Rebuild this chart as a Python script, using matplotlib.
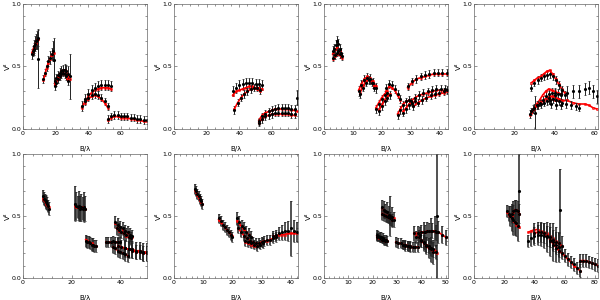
import matplotlib
matplotlib.use('Agg')
import matplotlib.pyplot as plt
from matplotlib.ticker import MultipleLocator

# ---------------------------------------------------------------- data
# each panel: list of segments (x, V2 data, error, model)

p1_x = [[5.5, 6.0, 6.5, 7.0, 7.5, 8.0, 8.5, 9.0, 9.1],
        [12.5, 13.5, 14.5, 15.5, 16.5, 17.5, 18.5, 18.8],
        [19.5, 20.5, 21.5, 22.5, 23.5, 24.5, 25.5, 26.5, 27.5, 28.5],
        [19.5, 20.5, 21.5, 22.5, 23.5, 24.5, 25.5, 26.5, 27.5],
        [36, 38, 40, 42, 44, 46, 48, 50, 52, 54],
        [38, 40, 42, 44, 46, 48, 50, 52],
        [52, 54, 56, 58, 60, 62, 64, 66, 68, 70, 72, 74, 76]]
p1_y = [[0.60, 0.62, 0.64, 0.66, 0.68, 0.70, 0.71, 0.73, 0.56],
        [0.40, 0.45, 0.50, 0.54, 0.57, 0.60, 0.62, 0.55],
        [0.38, 0.41, 0.43, 0.45, 0.46, 0.47, 0.47, 0.46, 0.44, 0.42],
        [0.34, 0.37, 0.40, 0.42, 0.44, 0.45, 0.44, 0.42, 0.38],
        [0.18, 0.24, 0.28, 0.31, 0.33, 0.34, 0.35, 0.35, 0.35, 0.34],
        [0.22, 0.25, 0.27, 0.28, 0.27, 0.25, 0.22, 0.18],
        [0.08, 0.10, 0.11, 0.11, 0.10, 0.10, 0.10, 0.09, 0.09, 0.08, 0.08, 0.07, 0.07]]
p1_e = [[0.04, 0.04, 0.05, 0.05, 0.06, 0.06, 0.07, 0.07, 0.23],
        [0.03, 0.03, 0.04, 0.04, 0.05, 0.05, 0.08, 0.18],
        [0.03, 0.03, 0.03, 0.04, 0.04, 0.04, 0.05, 0.05, 0.06, 0.18],
        0.03, 0.04, 0.03, 0.03]
p1_m = [[0.61, 0.63, 0.65, 0.66, 0.68, 0.69, 0.71, 0.72, 0.72],
        [0.39, 0.44, 0.49, 0.53, 0.56, 0.59, 0.61, 0.61],
        [0.37, 0.40, 0.42, 0.44, 0.46, 0.47, 0.47, 0.46, 0.43, 0.40],
        [0.35, 0.38, 0.40, 0.42, 0.44, 0.45, 0.44, 0.42, 0.39],
        [0.17, 0.22, 0.26, 0.29, 0.31, 0.32, 0.33, 0.33, 0.33, 0.32],
        [0.21, 0.24, 0.26, 0.27, 0.26, 0.24, 0.21, 0.17],
        [0.07, 0.09, 0.10, 0.10, 0.09, 0.09, 0.09, 0.08, 0.08, 0.07, 0.07, 0.06, 0.06]]

p2_x = [[36, 38, 40, 42, 44, 46, 48, 50, 52, 54],
        [37, 39, 41, 43, 45, 47, 49, 51, 53],
        [52, 54, 56, 58, 60, 62, 64, 66, 68, 70, 72, 74, 75.5],
        [52, 54, 56, 58, 60, 62, 64, 66, 68, 70, 72, 74]]
p2_y = [[0.30, 0.33, 0.35, 0.36, 0.37, 0.37, 0.37, 0.36, 0.36, 0.35],
        [0.15, 0.21, 0.25, 0.28, 0.30, 0.32, 0.33, 0.33, 0.31],
        [0.06, 0.10, 0.12, 0.14, 0.15, 0.16, 0.17, 0.17, 0.17, 0.17, 0.16, 0.16, 0.25],
        [0.05, 0.08, 0.10, 0.11, 0.12, 0.13, 0.13, 0.13, 0.13, 0.13, 0.12, 0.12]]
p2_e = [0.04, 0.03, [0.03] * 12 + [0.06], 0.03]
p2_m = [[0.27, 0.30, 0.31, 0.32, 0.33, 0.34, 0.34, 0.33, 0.33, 0.32],
        [0.16, 0.21, 0.25, 0.28, 0.30, 0.32, 0.33, 0.32, 0.30],
        [0.07, 0.11, 0.13, 0.14, 0.15, 0.16, 0.16, 0.16, 0.16, 0.16, 0.15, 0.15, 0.14],
        [0.05, 0.08, 0.10, 0.11, 0.12, 0.12, 0.12, 0.12, 0.12, 0.12, 0.11, 0.11]]

p3_x = [[3.0, 3.5, 4.0, 4.5, 5.0, 5.5, 6.0],
        [3.2, 3.8, 4.4, 5.0, 5.6, 6.2],
        [12, 13, 14, 15, 16, 17, 18],
        [12.5, 13.5, 14.5, 15.5, 16.5, 17.5],
        [18, 19, 20, 21, 22],
        [19, 20, 21, 22, 23],
        [21.5, 22.5, 23.5, 24.5, 25.5, 26.5],
        [25.5, 26.5, 27.5, 28.5, 29.5],
        [27.5, 28.5, 29.5, 30.5, 31.5],
        [29, 30.5, 32, 33.5, 35, 36.5, 38, 39.5, 41, 42.5],
        [30, 31.5, 33, 34.5, 36, 37.5, 39, 40.5, 42],
        [31, 32.5, 34, 35.5, 37, 38.5, 40, 41.5, 42.8]]
p3_y = [[0.62, 0.64, 0.67, 0.70, 0.68, 0.64, 0.61],
        [0.57, 0.59, 0.61, 0.62, 0.60, 0.58],
        [0.30, 0.35, 0.39, 0.41, 0.40, 0.37, 0.33],
        [0.28, 0.33, 0.37, 0.39, 0.37, 0.33],
        [0.16, 0.20, 0.24, 0.27, 0.29],
        [0.14, 0.18, 0.22, 0.25, 0.27],
        [0.33, 0.36, 0.35, 0.32, 0.28, 0.24],
        [0.11, 0.15, 0.19, 0.22, 0.23],
        [0.13, 0.16, 0.19, 0.21, 0.22],
        [0.34, 0.38, 0.40, 0.42, 0.43, 0.44, 0.45, 0.45, 0.45, 0.45],
        [0.22, 0.25, 0.27, 0.29, 0.30, 0.31, 0.32, 0.32, 0.32],
        [0.18, 0.21, 0.23, 0.25, 0.27, 0.28, 0.29, 0.30, 0.31]]
p3_e = [0.04, 0.03, 0.04, 0.03, 0.03, 0.03, 0.03, 0.03, 0.03, 0.03, 0.03, 0.03]
p3_m = [[0.60, 0.62, 0.64, 0.65, 0.64, 0.62, 0.60],
        [0.56, 0.58, 0.60, 0.61, 0.59, 0.57],
        [0.31, 0.36, 0.40, 0.42, 0.41, 0.38, 0.34],
        [0.29, 0.34, 0.38, 0.40, 0.38, 0.34],
        [0.17, 0.21, 0.25, 0.28, 0.30],
        [0.15, 0.19, 0.23, 0.26, 0.28],
        [0.30, 0.34, 0.33, 0.31, 0.27, 0.23],
        [0.12, 0.16, 0.20, 0.22, 0.23],
        [0.14, 0.17, 0.20, 0.21, 0.22],
        [0.33, 0.37, 0.40, 0.41, 0.42, 0.43, 0.44, 0.44, 0.44, 0.44],
        [0.22, 0.25, 0.27, 0.28, 0.29, 0.30, 0.31, 0.31, 0.31],
        [0.18, 0.21, 0.23, 0.25, 0.26, 0.27, 0.28, 0.29, 0.30]]

p4_x = [[28.5, 30, 31.5, 33, 34.5, 36, 37.5, 39, 40.5, 42, 43.5, 45],
        [28, 29.5, 30.5, 31, 32.5, 34, 35.5, 37, 38.5, 40, 41.5, 43],
        [28.5, 30, 31.5, 33, 34.5, 36, 37.5, 39, 40.5, 42, 43.5],
        [37, 40, 43, 46, 49, 52, 55, 57, 59, 61],
        [38, 40.5, 43, 45.5, 48, 50.5, 52]]
p4_y = [[0.33, 0.37, 0.39, 0.41, 0.42, 0.43, 0.44, 0.42, 0.39, 0.35, 0.31, 0.27],
        [0.12, 0.16, 0.13, 0.19, 0.21, 0.23, 0.26, 0.28, 0.29, 0.29, 0.28, 0.27],
        [0.14, 0.17, 0.19, 0.20, 0.21, 0.22, 0.23, 0.24, 0.23, 0.22, 0.21],
        [0.25, 0.27, 0.28, 0.29, 0.30, 0.30, 0.32, 0.33, 0.30, 0.26],
        [0.20, 0.19, 0.19, 0.20, 0.19, 0.18, 0.17]]
p4_e = [0.03,
        [0.03, 0.03, 0.13, 0.03, 0.03, 0.03, 0.04, 0.04, 0.04, 0.04, 0.04, 0.04],
        0.03, 0.05, 0.03]
p4_m = [[0.37, 0.39, 0.41, 0.42, 0.44, 0.46, 0.47, 0.44, 0.40, 0.36, 0.32, 0.29],
        [0.11, 0.16, 0.18, 0.20, 0.23, 0.27, 0.30, 0.32, 0.31, 0.30, 0.29, 0.28],
        [0.13, 0.16, 0.19, 0.21, 0.23, 0.25, 0.26, 0.26, 0.25, 0.24, 0.23],
        [0.24, 0.23, 0.22, 0.23, 0.21, 0.20, 0.20, 0.19, 0.17, 0.16],
        None]

p5_x = [[8.4, 8.7, 9.0, 9.3, 9.6, 9.9, 10.2, 10.5],
        [21.5, 22, 22.5, 23, 23.5, 24, 24.5, 25, 25.5],
        [25.8, 26.4, 27, 27.6, 28.2, 28.8, 29.4, 30],
        [34, 35, 36, 37, 38, 39, 40],
        [38, 39, 40, 41, 42, 43, 44, 45],
        [38.5, 39.5, 40.5, 41.5, 42.5, 43.5, 44.5],
        [37, 38, 39, 40, 41, 42, 43],
        [42, 43.5, 45, 46.5, 48, 49.5, 51],
        [39, 40.5, 42, 43.5, 45, 46.5, 48, 49.5, 51]]
p5_y = [[0.66, 0.64, 0.63, 0.62, 0.61, 0.60, 0.58, 0.56],
        [0.60, 0.58, 0.57, 0.58, 0.56, 0.57, 0.56, 0.57, 0.56],
        [0.30, 0.29, 0.29, 0.28, 0.27, 0.27, 0.26, 0.26],
        [0.29, 0.29, 0.29, 0.30, 0.29, 0.29, 0.29],
        [0.45, 0.43, 0.41, 0.40, 0.38, 0.37, 0.35, 0.34],
        [0.40, 0.39, 0.37, 0.36, 0.35, 0.33, 0.32],
        [0.25, 0.24, 0.22, 0.21, 0.20, 0.19, 0.18],
        [0.24, 0.23, 0.23, 0.22, 0.22, 0.21, 0.21],
        [0.26, 0.25, 0.24, 0.23, 0.22, 0.21, 0.21, 0.20, 0.20]]
p5_e = [0.05, [0.14, 0.11, 0.09, 0.12, 0.10, 0.11, 0.09, 0.12, 0.10],
        0.05, 0.04, 0.05, 0.05, 0.05, 0.07, 0.06]
p5_m = [[0.64, 0.63, 0.62, 0.61, 0.60, 0.59, 0.58, 0.57],
        [0.58, 0.57, 0.57, 0.57, 0.57, 0.57, 0.57, 0.56, 0.56],
        [0.31, 0.30, 0.29, 0.28, 0.28, 0.27, 0.26, 0.26],
        [0.29, 0.29, 0.29, 0.29, 0.29, 0.29, 0.29],
        [0.44, 0.42, 0.41, 0.39, 0.38, 0.36, 0.35, 0.33],
        [0.40, 0.38, 0.37, 0.36, 0.34, 0.33, 0.32],
        [0.25, 0.24, 0.22, 0.21, 0.20, 0.19, 0.18],
        [0.24, 0.23, 0.23, 0.22, 0.22, 0.21, 0.21],
        [0.26, 0.25, 0.24, 0.23, 0.22, 0.21, 0.21, 0.20, 0.20]]

p6_x = [[7.2, 7.6, 8.0, 8.4, 8.8, 9.2, 9.6],
        [15.3, 16, 16.7, 17.4, 18.1, 18.8, 19.5, 20],
        [21.6, 22.4, 23.2, 24, 24.8, 25.6, 26.4],
        [22, 23, 24, 25, 26, 27, 28],
        [24.5, 25.5, 26.5, 27.5, 28.5, 29.5, 30.5],
        [29, 30, 31, 32, 33, 34, 35],
        [34, 35, 36, 37, 38, 39, 40, 41, 42]]
p6_y = [[0.72, 0.70, 0.68, 0.66, 0.64, 0.62, 0.60],
        [0.48, 0.46, 0.43, 0.41, 0.39, 0.37, 0.35, 0.33],
        [0.48, 0.45, 0.42, 0.40, 0.37, 0.35, 0.33],
        [0.40, 0.37, 0.34, 0.32, 0.30, 0.29, 0.28],
        [0.30, 0.29, 0.28, 0.27, 0.26, 0.27, 0.28],
        [0.28, 0.29, 0.30, 0.31, 0.31, 0.32, 0.33],
        [0.34, 0.35, 0.36, 0.37, 0.38, 0.38, 0.40, 0.38, 0.37]]
p6_e = [0.04, 0.04, 0.05, 0.04, 0.04, 0.04,
        [0.04, 0.04, 0.05, 0.06, 0.07, 0.08, 0.22, 0.09, 0.08]]
p6_m = [[0.71, 0.69, 0.67, 0.65, 0.63, 0.61, 0.60],
        [0.47, 0.45, 0.43, 0.41, 0.39, 0.37, 0.35, 0.34],
        [0.46, 0.44, 0.41, 0.39, 0.37, 0.35, 0.33],
        [0.40, 0.37, 0.34, 0.32, 0.30, 0.29, 0.28],
        [0.29, 0.28, 0.27, 0.26, 0.26, 0.27, 0.28],
        [0.28, 0.29, 0.30, 0.30, 0.31, 0.32, 0.33],
        [0.34, 0.34, 0.35, 0.35, 0.35, 0.36, 0.36, 0.36, 0.36]]

p7_x = [[21.7, 22.3, 22.9, 23.5, 24.1, 24.7, 25.3, 25.9],
        [22, 22.6, 23.2, 23.8, 24.4, 25],
        [23.8, 24.5, 25.2, 25.9, 26.6, 27.3, 28, 28.7],
        [24, 24.8, 25.6, 26.4, 27.2, 28],
        [29.5, 30.5, 31.5, 32.5, 33.5, 34.5, 35.5],
        [32.5, 33.5, 34.5, 35.5, 36.5, 37.5, 38.5],
        [38, 39.5, 41, 42.5, 44, 45.5, 47, 48.5, 50],
        [37, 38.5, 40, 41.5, 43, 44.5, 46],
        [39, 40, 41, 42, 43, 44, 45, 46],
        [40, 41, 42, 43, 44, 45, 46.3]]
p7_y = [[0.35, 0.34, 0.33, 0.33, 0.32, 0.31, 0.31, 0.30],
        [0.33, 0.33, 0.32, 0.31, 0.31, 0.30],
        [0.57, 0.55, 0.54, 0.53, 0.51, 0.50, 0.49, 0.47],
        [0.52, 0.51, 0.50, 0.49, 0.48, 0.47],
        [0.29, 0.28, 0.28, 0.27, 0.27, 0.26, 0.26],
        [0.27, 0.26, 0.26, 0.25, 0.25, 0.25, 0.25],
        [0.33, 0.35, 0.37, 0.38, 0.38, 0.38, 0.37, 0.35, 0.33],
        [0.36, 0.36, 0.37, 0.37, 0.38, 0.38, 0.37],
        [0.33, 0.31, 0.29, 0.27, 0.26, 0.24, 0.23, 0.21],
        [0.30, 0.28, 0.26, 0.24, 0.23, 0.21, 0.50]]
p7_e = [0.04, 0.03, [0.06, 0.07, 0.06, 0.08, 0.07, 0.16, 0.08, 0.06], 0.05,
        0.04, 0.04, [0.05, 0.06, 0.08, 0.07, 0.10, 0.12, 0.09, 0.07, 0.06],
        0.06, 0.06, [0.05, 0.06, 0.07, 0.08, 0.10, 0.10, 0.50]]
p7_m = [[0.34, 0.33, 0.33, 0.32, 0.32, 0.31, 0.31, 0.30],
        [0.33, 0.32, 0.32, 0.31, 0.31, 0.30],
        [0.56, 0.55, 0.54, 0.52, 0.51, 0.50, 0.49, 0.48],
        [0.52, 0.51, 0.50, 0.49, 0.48, 0.47],
        [0.29, 0.28, 0.28, 0.27, 0.27, 0.26, 0.26],
        [0.27, 0.26, 0.26, 0.25, 0.25, 0.25, 0.25],
        [0.34, 0.36, 0.37, 0.38, 0.38, 0.38, 0.37, 0.35, 0.33],
        [0.36, 0.36, 0.37, 0.37, 0.38, 0.38, 0.37],
        [0.33, 0.31, 0.29, 0.27, 0.26, 0.24, 0.23, 0.22],
        [0.30, 0.28, 0.26, 0.24, 0.23, 0.21, 0.20]]

p8_x = [[22, 23, 24, 25, 26, 27, 28, 29, 30],
        [25, 26, 27, 28, 29, 30],
        [36, 38, 40, 42, 44, 46, 48, 50, 52, 54, 56, 57],
        [40, 42, 44, 46, 48, 50, 52, 54, 56, 58],
        [50, 52, 54, 56, 58, 60, 62, 64, 66, 68, 70],
        [70, 72, 74, 76, 78, 80, 82]]
p8_y = [[0.54, 0.52, 0.50, 0.48, 0.47, 0.45, 0.44, 0.42, 0.70],
        [0.52, 0.54, 0.55, 0.55, 0.54, 0.52],
        [0.30, 0.32, 0.34, 0.35, 0.35, 0.34, 0.33, 0.31, 0.29, 0.27, 0.25, 0.55],
        [0.36, 0.37, 0.37, 0.36, 0.34, 0.33, 0.31, 0.29, 0.28, 0.26],
        [0.30, 0.27, 0.24, 0.22, 0.20, 0.18, 0.15, 0.13, 0.11, 0.08, 0.06],
        [0.14, 0.14, 0.14, 0.13, 0.12, 0.11, 0.10]]
p8_e = [[0.05, 0.06, 0.08, 0.10, 0.12, 0.10, 0.10, 0.12, 0.30],
        0.08,
        [0.05, 0.06, 0.07, 0.08, 0.09, 0.10, 0.12, 0.13, 0.15, 0.14, 0.12, 0.33],
        0.08, 0.05, 0.05]
p8_m = [[0.53, 0.51, 0.50, 0.48, 0.46, 0.45, 0.43, 0.42, 0.41],
        [0.50, 0.53, 0.55, 0.55, 0.54, 0.52],
        [0.37, 0.38, 0.39, 0.39, 0.38, 0.37, 0.36, 0.34, 0.32, 0.30, 0.28, 0.27],
        [0.36, 0.37, 0.37, 0.36, 0.34, 0.33, 0.31, 0.29, 0.28, 0.26],
        [0.31, 0.28, 0.25, 0.22, 0.20, 0.18, 0.15, 0.13, 0.10, 0.08, 0.06],
        [0.14, 0.14, 0.14, 0.13, 0.12, 0.11, 0.10]]

xmax = [76, 76, 43, 61.5, 51, 42.5, 51, 82]
xmajor = [20, 20, 10, 20, 20, 10, 10, 20]
xminor = [5, 5, 2, 5, 4, 2, 2, 5]

panels = [(p1_x, p1_y, p1_e, p1_m), (p2_x, p2_y, p2_e, p2_m),
          (p3_x, p3_y, p3_e, p3_m), (p4_x, p4_y, p4_e, p4_m),
          (p5_x, p5_y, p5_e, p5_m), (p6_x, p6_y, p6_e, p6_m),
          (p7_x, p7_y, p7_e, p7_m), (p8_x, p8_y, p8_e, p8_m)]

# ---------------------------------------------------------------- figure
fig = plt.figure(figsize=(6, 3), dpi=100)
lefts = [23, 174, 324, 474]

for i, (xs, ys, es, ms) in enumerate(panels):
    row, col = divmod(i, 4)
    if row == 0:
        ax = fig.add_axes([lefts[col] / 600, 1 - 129 / 300, 124 / 600, 125 / 300])
        elw = 0.7
    else:
        ax = fig.add_axes([lefts[col] / 600, 1 - 278 / 300, 124 / 600, 124 / 300])
        elw = 1.1  # bottom row data is much denser

    for x, y, e, m in zip(xs, ys, es, ms):
        ax.errorbar(x, y, yerr=e, fmt='.', color='black', ms=2.5,
                    ecolor='#222222', elinewidth=elw, capsize=0.8, capthick=0.5)
        if m is not None:
            ax.plot(x, m, color='red', lw=1.2, marker='o', ms=1.6,
                    mfc='none', mew=0.5)

    ax.set_xlim(0, xmax[i])
    ax.set_ylim(0, 1)
    ax.xaxis.set_major_locator(MultipleLocator(xmajor[i]))
    ax.xaxis.set_minor_locator(MultipleLocator(xminor[i]))
    ax.yaxis.set_major_locator(MultipleLocator(0.5))
    ax.yaxis.set_minor_locator(MultipleLocator(0.1))
    ax.tick_params(which='both', direction='in', top=True, right=True,
                   labelsize=4.5, width=0.4, pad=1.5, colors='#444444',
                   labelcolor='black')
    ax.tick_params(which='major', length=2.5)
    ax.tick_params(which='minor', length=1.3)
    ax.yaxis.set_major_formatter(plt.FormatStrFormatter('%.1f'))
    for s in ax.spines.values():
        s.set_linewidth(0.5)
        s.set_color('#666666')
    ax.set_xlabel('B/λ', fontsize=5, labelpad=7)
    ax.set_ylabel('V²', fontsize=5)
    ax.yaxis.set_label_coords(-0.1, 0.5)

fig.savefig('out.png', dpi=100)
